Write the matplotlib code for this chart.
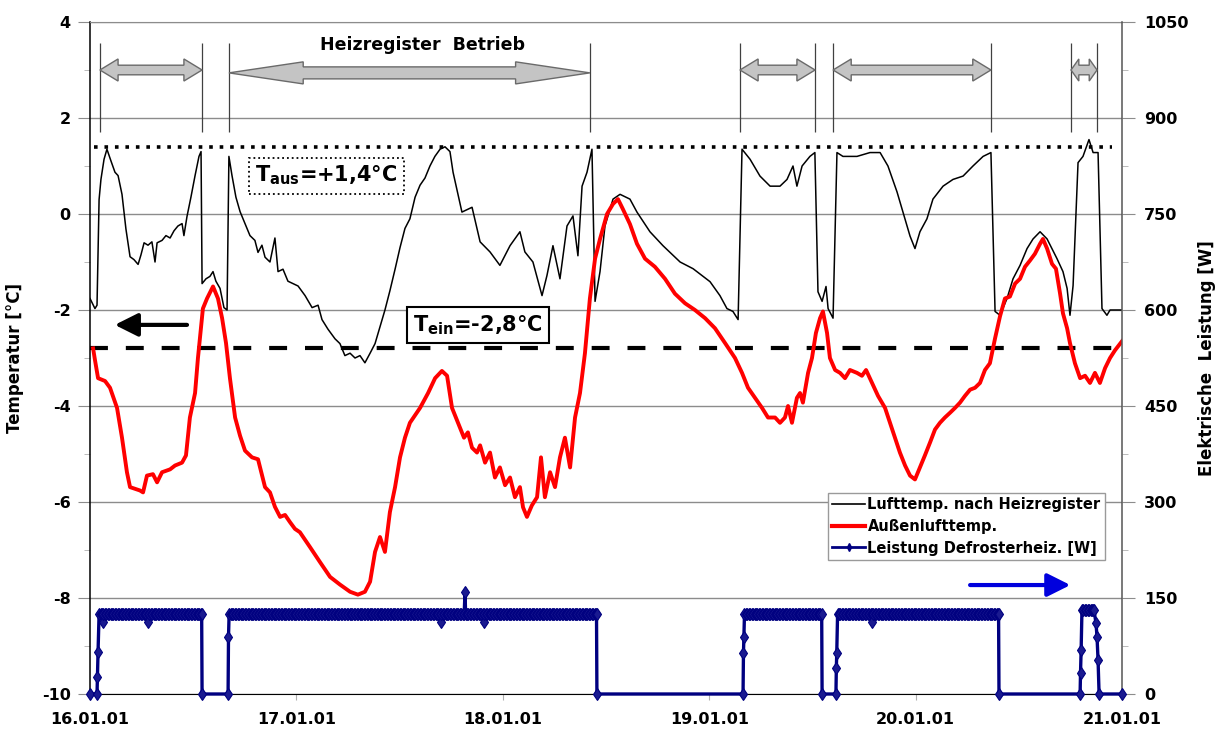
import numpy as np
import matplotlib
matplotlib.use("Agg")
import matplotlib.pyplot as plt
import matplotlib.dates as mdates
from matplotlib.patches import Polygon
from matplotlib.lines import Line2D
from datetime import datetime

plt.rcParams['font.family'] = ['DejaVu Sans']
plt.rcParams['font.weight'] = 'bold'
plt.rcParams['mathtext.fontset'] = 'dejavusans'
plt.rcParams['mathtext.default'] = 'bf'
plt.rcParams['axes.unicode_minus'] = False

# ---------------------------------------------------------------- data
# time in days after 16.01.01 00:00
air_after_heater_d = [
    0.000, 0.024, 0.034, 0.044, 0.053, 0.068, 0.082, 0.102, 0.121, 0.136, 0.155, 0.174,
    0.194, 0.213, 0.233, 0.247, 0.262, 0.281, 0.300, 0.315, 0.325, 0.349, 0.368, 0.388,
    0.407, 0.426, 0.446, 0.455, 0.470, 0.489, 0.509, 0.528, 0.538, 0.543, 0.562, 0.581,
    0.596, 0.610, 0.630, 0.649, 0.664, 0.673, 0.688, 0.707, 0.727, 0.751, 0.775, 0.799,
    0.814, 0.833, 0.848, 0.872, 0.896, 0.911, 0.935, 0.959, 0.983, 1.008, 1.042, 1.076,
    1.105, 1.124, 1.153, 1.187, 1.211, 1.235, 1.260, 1.284, 1.308, 1.332, 1.357, 1.381,
    1.405, 1.429, 1.453, 1.478, 1.502, 1.526, 1.550, 1.575, 1.599, 1.623, 1.647, 1.671,
    1.696, 1.720, 1.744, 1.759, 1.802, 1.851, 1.890, 1.938, 1.986, 2.035, 2.083, 2.107,
    2.146, 2.190, 2.214, 2.243, 2.277, 2.311, 2.340, 2.364, 2.384, 2.408, 2.432, 2.447,
    2.471, 2.495, 2.534, 2.568, 2.616, 2.650, 2.713, 2.776, 2.859, 2.922, 3.004, 3.052,
    3.086, 3.115, 3.140, 3.159, 3.198, 3.246, 3.295, 3.343, 3.377, 3.406, 3.425, 3.450,
    3.488, 3.512, 3.527, 3.547, 3.566, 3.576, 3.600, 3.619, 3.648, 3.716, 3.779, 3.828,
    3.866, 3.910, 3.939, 3.973, 3.997, 4.021, 4.055, 4.084, 4.133, 4.181, 4.230, 4.278,
    4.327, 4.365, 4.385, 4.409, 4.443, 4.472, 4.506, 4.540, 4.569, 4.603, 4.637, 4.685,
    4.714, 4.734, 4.748, 4.763, 4.787, 4.811, 4.840, 4.860, 4.884, 4.903, 4.927, 4.942,
    5.000]
air_after_heater_t = [
    -1.76, -1.97, -1.90, 0.30, 0.72, 1.14, 1.35, 1.10, 0.87, 0.80, 0.41, -0.31,
    -0.89, -0.95, -1.05, -0.85, -0.60, -0.65, -0.58, -1.00, -0.60, -0.55, -0.45, -0.50,
    -0.35, -0.25, -0.20, -0.45, -0.05, 0.35, 0.80, 1.20, 1.30, -1.45, -1.35, -1.30,
    -1.20, -1.40, -1.55, -1.95, -2.00, 1.20, 0.80, 0.35, 0.05, -0.20, -0.45, -0.55,
    -0.80, -0.65, -0.90, -1.00, -0.50, -1.20, -1.15, -1.40, -1.45, -1.50, -1.70, -1.95,
    -1.90, -2.20, -2.40, -2.60, -2.70, -2.95, -2.90, -3.00, -2.95, -3.10, -2.90, -2.70,
    -2.35, -2.00, -1.60, -1.15, -0.70, -0.30, -0.10, 0.35, 0.60, 0.75, 1.00, 1.20,
    1.35, 1.40, 1.30, 0.87, 0.04, 0.14, -0.58, -0.79, -1.07, -0.66, -0.37, -0.79,
    -1.00, -1.70, -1.28, -0.66, -1.35, -0.25, -0.04, -0.87, 0.58, 0.87, 1.35, -1.82,
    -1.20, -0.25, 0.31, 0.41, 0.31, 0.04, -0.37, -0.66, -1.00, -1.14, -1.41, -1.70,
    -1.97, -2.03, -2.20, 1.35, 1.14, 0.79, 0.58, 0.58, 0.72, 1.00, 0.58, 1.00,
    1.20, 1.28, -1.62, -1.82, -1.51, -1.97, -2.17, 1.28, 1.20, 1.20, 1.28, 1.28,
    1.00, 0.46, 0.04, -0.46, -0.72, -0.37, -0.10, 0.31, 0.58, 0.72, 0.79, 1.00,
    1.20, 1.28, -2.03, -2.11, -1.76, -1.35, -1.07, -0.72, -0.52, -0.37, -0.52, -0.93,
    -1.20, -1.55, -2.11, -1.49, 1.07, 1.20, 1.55, 1.28, 1.28, -1.97, -2.11, -2.00,
    -2.00]

outdoor_d = [
    0.015, 0.024, 0.039, 0.073, 0.097, 0.131, 0.155, 0.179, 0.194, 0.242, 0.257, 0.276,
    0.305, 0.325, 0.349, 0.388, 0.412, 0.446, 0.465, 0.484, 0.509, 0.523, 0.547, 0.567,
    0.596, 0.620, 0.640, 0.659, 0.678, 0.703, 0.727, 0.751, 0.785, 0.814, 0.848, 0.872,
    0.896, 0.921, 0.945, 0.969, 0.993, 1.017, 1.066, 1.114, 1.163, 1.211, 1.260, 1.298,
    1.332, 1.357, 1.381, 1.405, 1.429, 1.453, 1.478, 1.502, 1.526, 1.550, 1.599, 1.638,
    1.672, 1.705, 1.730, 1.754, 1.783, 1.812, 1.831, 1.851, 1.875, 1.890, 1.914, 1.938,
    1.962, 1.986, 2.011, 2.035, 2.059, 2.083, 2.098, 2.117, 2.141, 2.166, 2.185, 2.204,
    2.229, 2.253, 2.277, 2.301, 2.326, 2.350, 2.374, 2.398, 2.422, 2.447, 2.471, 2.505,
    2.534, 2.558, 2.582, 2.616, 2.650, 2.689, 2.737, 2.786, 2.834, 2.883, 2.931, 2.980,
    3.028, 3.077, 3.125, 3.159, 3.188, 3.222, 3.256, 3.285, 3.319, 3.343, 3.367, 3.382,
    3.401, 3.425, 3.440, 3.454, 3.479, 3.498, 3.517, 3.537, 3.551, 3.571, 3.585, 3.610,
    3.634, 3.658, 3.682, 3.716, 3.740, 3.760, 3.789, 3.818, 3.852, 3.876, 3.900, 3.924,
    3.949, 3.973, 3.997, 4.021, 4.045, 4.070, 4.094, 4.118, 4.142, 4.167, 4.191, 4.215,
    4.239, 4.264, 4.288, 4.312, 4.336, 4.360, 4.385, 4.409, 4.433, 4.457, 4.482, 4.506,
    4.530, 4.554, 4.578, 4.603, 4.617, 4.637, 4.661, 4.680, 4.700, 4.714, 4.734, 4.748,
    4.772, 4.797, 4.821, 4.845, 4.869, 4.893, 4.918, 4.942, 4.966, 5.000]
outdoor_t = [
    -2.80, -3.04, -3.42, -3.48, -3.62, -4.04, -4.66, -5.38, -5.69, -5.76, -5.80, -5.45,
    -5.42, -5.59, -5.38, -5.32, -5.24, -5.18, -5.03, -4.24, -3.73, -3.00, -1.97, -1.76,
    -1.51, -1.76, -2.17, -2.69, -3.42, -4.24, -4.62, -4.93, -5.07, -5.11, -5.69, -5.80,
    -6.10, -6.31, -6.27, -6.42, -6.56, -6.63, -6.94, -7.25, -7.56, -7.72, -7.87, -7.93,
    -7.87, -7.66, -7.04, -6.73, -7.04, -6.21, -5.69, -5.07, -4.66, -4.35, -4.04, -3.73,
    -3.42, -3.27, -3.37, -4.04, -4.35, -4.66, -4.55, -4.87, -4.97, -4.82, -5.18, -4.97,
    -5.49, -5.28, -5.65, -5.49, -5.90, -5.69, -6.11, -6.31, -6.07, -5.90, -5.07, -5.90,
    -5.38, -5.69, -5.07, -4.66, -5.28, -4.24, -3.73, -2.90, -1.76, -0.93, -0.52, 0.00,
    0.21, 0.31, 0.10, -0.21, -0.62, -0.93, -1.10, -1.35, -1.66, -1.86, -2.00, -2.17,
    -2.38, -2.69, -3.00, -3.31, -3.62, -3.83, -4.04, -4.24, -4.24, -4.35, -4.24, -4.00,
    -4.35, -3.83, -3.73, -3.93, -3.31, -3.00, -2.48, -2.17, -2.03, -2.48, -3.00, -3.25,
    -3.31, -3.42, -3.25, -3.31, -3.37, -3.25, -3.52, -3.79, -4.04, -4.35, -4.66, -4.97,
    -5.24, -5.45, -5.53, -5.28, -5.03, -4.76, -4.49, -4.35, -4.24, -4.14, -4.04, -3.93,
    -3.79, -3.66, -3.62, -3.52, -3.25, -3.11, -2.59, -2.13, -1.76, -1.72, -1.45, -1.35,
    -1.10, -0.97, -0.83, -0.62, -0.52, -0.72, -1.04, -1.14, -1.66, -2.07, -2.38, -2.69,
    -3.11, -3.42, -3.37, -3.52, -3.31, -3.52, -3.21, -3.00, -2.84, -2.65]

# defroster heater: switch-on periods (days) with plateau power (W), 10-min logging
heater_on_start = [0.044, 0.674, 3.171, 3.622, 4.806]
heater_on_end = [0.541, 2.454, 3.545, 4.402, 4.864]
heater_level_w = [125, 125, 125, 125, 131]
heater_ramp_up = [[(0.034, 0), (0.036, 27), (0.039, 66)],
                  [(0.669, 0), (0.671, 89)],
                  [(3.164, 0), (3.166, 64), (3.168, 89)],
                  [(3.614, 0), (3.616, 41), (3.618, 64)],
                  [(4.797, 0), (4.799, 33), (4.802, 69)]]
heater_ramp_down = [[(0.543, 0)],
                    [(2.456, 0)],
                    [(3.547, 0)],
                    [(4.404, 0)],
                    [(4.874, 111), (4.879, 89), (4.884, 53), (4.889, 0)]]
heater_single_readings = [(0.063, 112), (0.281, 112), (1.700, 112), (1.817, 160),
                          (1.909, 112), (3.790, 112)]
log_step_days = 10.0 / 1440.0

# reference temperatures and operating periods of the heating register
t_off = 1.4
t_on = -2.8
register_switch_d = [0.048, 0.543, 0.673, 2.422, 3.149, 3.513, 3.600, 4.365, 4.753, 4.879]
register_runs = [(0, 1), (2, 3), (4, 5), (6, 7), (8, 9)]

day_labels_start = datetime(2001, 1, 16)

# ---------------------------------------------------------------- series build
t0 = mdates.date2num(day_labels_start)

pw = [(0.0, 0)]
for k in range(len(heater_on_start)):
    pw += heater_ramp_up[k]
    samples = np.arange(heater_on_start[k], heater_on_end[k], log_step_days)
    pw += [(float(s), heater_level_w[k]) for s in samples]
    pw.append((heater_on_end[k], heater_level_w[k]))
    pw += heater_ramp_down[k]
for (d, w) in heater_single_readings:
    pw.append((d, w))
pw.append((5.0, 0))
pw.sort(key=lambda p: p[0])
pw_d = np.array([p[0] for p in pw])
pw_w = np.array([p[1] for p in pw])

# ---------------------------------------------------------------- figure
fig = plt.figure(figsize=(12.23, 7.36), dpi=100)
ax = fig.add_axes([90 / 1223, 42 / 736, 1032 / 1223, 672 / 736])
ax.set_xlim(t0, t0 + 5)
ax.set_ylim(-10, 4)

grid_c = '#8c8c8c'
ax.set_yticks(np.arange(-10, 5, 2))
ax.set_yticks(np.arange(-10, 5, 1), minor=True)
ax.grid(axis='y', which='major', color=grid_c, lw=1.0, zorder=0)
ax.set_axisbelow(True)

ax.xaxis.set_major_locator(mdates.DayLocator())
ax.xaxis.set_major_formatter(mdates.DateFormatter('%d.%m.%y'))

ax.tick_params(axis='y', which='major', direction='out', length=9, color=grid_c,
               labelsize=11.5, pad=5)
ax.tick_params(axis='y', which='minor', direction='out', length=4, color='#b0b0b0')
ax.tick_params(axis='x', which='major', direction='out', length=4, color='#b0b0b0',
               labelsize=11.5, pad=9)
for lbl in ax.get_yticklabels() + ax.get_xticklabels():
    lbl.set_fontweight('bold')

ax.spines['left'].set_color('black')
ax.spines['left'].set_linewidth(1.1)
ax.spines['top'].set_color(grid_c)
ax.spines['right'].set_visible(False)
ax.spines['bottom'].set_color('black')

# temperature curves
ax.plot(t0 + np.array(air_after_heater_d), air_after_heater_t, color='black', lw=1.1,
        zorder=3)
ax.plot(t0 + np.array(outdoor_d), outdoor_t, color='#ff0000', lw=2.8, zorder=3)

# switching thresholds
ax.hlines(t_off, t0 + 0.02, t0 + 4.95, colors='black', lw=2.6,
          linestyles=(0, (1, 1.9)), zorder=2)
ax.hlines(t_on, t0 + 0.0, t0 + 4.95, colors='black', lw=3,
          linestyles=(0, (4.3, 4.3)), zorder=2)

# heating register operating periods
ax.vlines(t0 + np.array(register_switch_d), 1.70, 3.56, colors='#404040', lw=0.9,
          zorder=2)


def double_arrow(x0, x1, y, head_len, body, head):
    pts = [(x0, y), (x0 + head_len, y + head), (x0 + head_len, y + body),
           (x1 - head_len, y + body), (x1 - head_len, y + head), (x1, y),
           (x1 - head_len, y - head), (x1 - head_len, y - body),
           (x0 + head_len, y - body), (x0 + head_len, y - head)]
    ax.add_patch(Polygon(pts, closed=True, fc='#c4c4c4', ec='#6a6a6a', lw=1.0,
                         zorder=4))


for i, (a, b) in enumerate(register_runs):
    xa = t0 + register_switch_d[a]
    xb = t0 + register_switch_d[b]
    if i == 1:
        double_arrow(xa, xb, 2.94, 0.36, 0.125, 0.23)
    else:
        hl = min(0.088, (xb - xa) * 0.3)
        double_arrow(xa, xb, 3.0, hl, 0.10, 0.23)

ax.text(t0 + 1.61, 3.52, "Heizregister  Betrieb", ha='center', va='center',
        fontsize=12.5, fontweight='bold', zorder=5)

ax.text(t0 + 1.146, 0.80, r"T$_{\mathbf{aus}}$=+1,4°C", ha='center', va='center',
        fontsize=15, fontweight='bold', zorder=5,
        bbox=dict(boxstyle='square,pad=0.3', fc='white', ec='black', ls=':', lw=1.3))
ax.text(t0 + 1.88, -2.31, r"T$_{\mathbf{ein}}$=-2,8°C", ha='center', va='center',
        fontsize=15, fontweight='bold', zorder=5,
        bbox=dict(boxstyle='square,pad=0.3', fc='white', ec='black', lw=1.5))

# axis pointers
ax.annotate('', xy=(t0 + 0.12, -2.31), xytext=(t0 + 0.47, -2.31),
            arrowprops=dict(arrowstyle='-|>', color='black', lw=3, mutation_scale=35,
                            shrinkA=0, shrinkB=0), zorder=5)
ax.annotate('', xy=(t0 + 4.75, -7.73), xytext=(t0 + 4.264, -7.73),
            arrowprops=dict(arrowstyle='-|>', color='#0000dd', lw=3,
                            mutation_scale=35, shrinkA=0, shrinkB=0), zorder=5)

ax.set_ylabel("Temperatur [°C]", fontsize=12, fontweight='bold')
ax.yaxis.set_label_coords(-0.064, 0.50)

# electric power on the right axis
ax2 = ax.twinx()
ax2.set_ylim(0, 1050)
ax2.set_yticks(np.arange(0, 1051, 150))
ax2.set_yticks(np.arange(0, 1051, 75), minor=True)
ax2.tick_params(axis='y', which='major', direction='out', length=9, color=grid_c,
                labelsize=11.5, pad=7)
ax2.tick_params(axis='y', which='minor', direction='out', length=4, color='#b0b0b0')
for lbl in ax2.get_yticklabels():
    lbl.set_fontweight('bold')
for s in ('left', 'top', 'bottom'):
    ax2.spines[s].set_visible(False)
ax2.spines['right'].set_color('#555555')
ax2.spines['right'].set_linewidth(1.1)

ax2.plot(t0 + pw_d, pw_w, color='#000080', lw=2.4, marker='d', ms=6,
         mfc='#1a1a90', mec='#000080', mew=0.8, clip_on=False, zorder=3)

ax2.set_ylabel("Elektrische  Leistung [W]", fontsize=12, fontweight='bold')
ax2.yaxis.set_label_coords(1.074, 0.50)

handles = [Line2D([], [], color='black', lw=1.2),
           Line2D([], [], color='#ff0000', lw=3),
           Line2D([], [], color='#000080', lw=2, marker='d', ms=4)]
labels = ["Lufttemp. nach Heizregister", "Außenlufttemp.",
          "Leistung Defrosterheiz. [W]"]
leg = ax2.legend(handles, labels, loc='upper right', bbox_to_anchor=(0.9835, 0.299),
                 prop={'size': 10.5, 'weight': 'bold'}, frameon=True, fancybox=False,
                 edgecolor='#9a9a9a', framealpha=1, borderpad=0.3,
                 labelspacing=0.45, handlelength=2.2, handletextpad=0.2,
                 borderaxespad=0)
leg.get_frame().set_linewidth(1.0)

fig.savefig("out.png", dpi=100, facecolor='white')
